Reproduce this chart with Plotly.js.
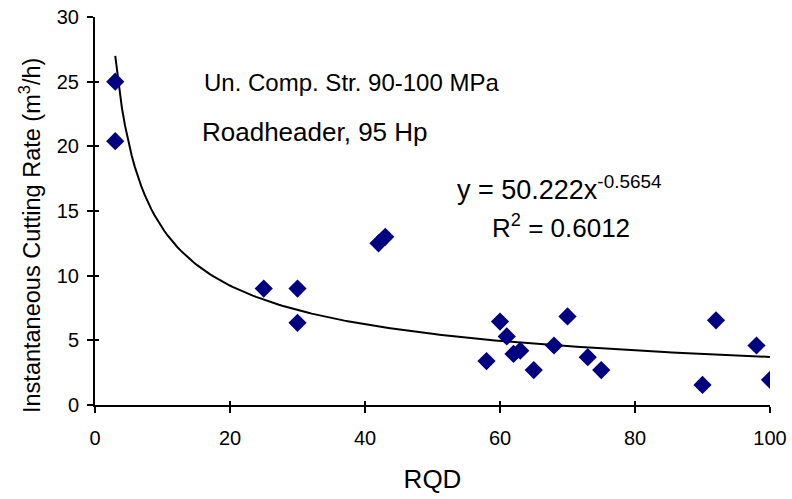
<!DOCTYPE html>
<html>
<head>
<meta charset="utf-8">
<script src="https://cdn.plot.ly/plotly-3.0.1.min.js"></script>
<style>html,body{margin:0;padding:0;background:#fff}#chart{width:792px;height:499px}</style>
</head>
<body>
<div id="chart"></div>
<script>
// Measured data: RQD vs instantaneous cutting rate
const rqd = [3, 3, 25, 30, 30, 42, 43, 58, 60, 61, 62, 63, 65, 68, 70, 73, 75, 90, 92, 98, 100];
const icr = [25, 20.4, 9, 9, 6.35, 12.5, 13, 3.4, 6.45, 5.3, 3.95, 4.2, 2.7, 4.6, 6.85, 3.7, 2.7, 1.55, 6.55, 4.6, 1.95];
// Power trendline as printed on the chart: y = a * x^b
const trendCoef = [50.222];
const trendExp = [-0.5654];
const trendRange = [3, 100];
// Axis ticks
const xTicks = [0, 20, 40, 60, 80, 100];
const yTicks = [0, 5, 10, 15, 20, 25, 30];

const tx = [], ty = [];
for (let i = 0; i <= 200; i++) {
  const x = trendRange[0] + (trendRange[1] - trendRange[0]) * i / 200;
  tx.push(x);
  ty.push(trendCoef[0] * Math.pow(x, trendExp[0]));
}

const fam = 'Liberation Sans, Arial, sans-serif';
const f = (s) => ({family: fam, size: s, color: '#000'});

const data = [
  {x: tx, y: ty, xaxis: 'x', yaxis: 'y', type: 'scatter', mode: 'lines', line: {color: '#000', width: 2}, hoverinfo: 'skip', showlegend: false},
  {x: rqd, y: icr, xaxis: 'x2', yaxis: 'y2', type: 'scatter', mode: 'markers', marker: {symbol: 'diamond', size: 14, color: '#000080'}, showlegend: false}
];

const axBase = {showgrid: false, zeroline: false, tickcolor: '#000', tickwidth: 2};

const layout = {
  width: 792, height: 499,
  margin: {l: 95, r: 22, t: 17, b: 94},
  paper_bgcolor: '#fff', plot_bgcolor: '#fff',
  font: f(20),
  showlegend: false,
  xaxis: Object.assign({}, axBase, {
    range: [0, 100], tickvals: xTicks,
    showline: true, linecolor: '#000', linewidth: 2,
    ticks: 'outside', ticklen: 6,
    tickfont: f(20), ticklabelstandoff: 8,
    title: {text: 'RQD', font: f(26), standoff: 22}
  }),
  yaxis: Object.assign({}, axBase, {
    range: [0, 30], tickvals: yTicks,
    showline: true, linecolor: '#000', linewidth: 2,
    ticks: 'outside', ticklen: 6,
    tickfont: f(20), ticklabelstandoff: 4
  }),
  xaxis2: Object.assign({}, axBase, {
    overlaying: 'x', side: 'bottom', range: [0, 100], tickvals: xTicks,
    showline: false, ticks: 'inside', ticklen: 4, showticklabels: false
  }),
  yaxis2: Object.assign({}, axBase, {
    overlaying: 'y', side: 'left', range: [0, 30], tickvals: yTicks,
    showline: false, ticks: 'inside', ticklen: 4, showticklabels: false
  }),
  annotations: [
    {xref: 'paper', yref: 'paper', x: (30 - 95) / 675, y: (405 - 236) / 388, text: 'Instantaneous Cutting Rate (m<sup>3</sup>/h)', textangle: -90, showarrow: false, xanchor: 'center', yanchor: 'middle', font: f(23.5)},
    {xref: 'paper', yref: 'paper', x: (202 - 95) / 675, y: (405 - 83) / 388, text: 'Un. Comp. Str. 90-100 MPa', showarrow: false, xanchor: 'left', yanchor: 'middle', font: f(24)},
    {xref: 'paper', yref: 'paper', x: (200 - 95) / 675, y: (405 - 132) / 388, text: 'Roadheader, 95 Hp', showarrow: false, xanchor: 'left', yanchor: 'middle', font: f(26)},
    {xref: 'paper', yref: 'paper', x: (455 - 95) / 675, y: (405 - 188) / 388, text: 'y = 50.222x<sup>-0.5654</sup>', showarrow: false, xanchor: 'left', yanchor: 'middle', font: f(27)},
    {xref: 'paper', yref: 'paper', x: (490 - 95) / 675, y: (405 - 226) / 388, text: 'R<sup>2</sup> = 0.6012', showarrow: false, xanchor: 'left', yanchor: 'middle', font: f(26)}
  ]
};

Plotly.newPlot('chart', data, layout, {displayModeBar: false, staticPlot: true});
</script>
</body>
</html>
